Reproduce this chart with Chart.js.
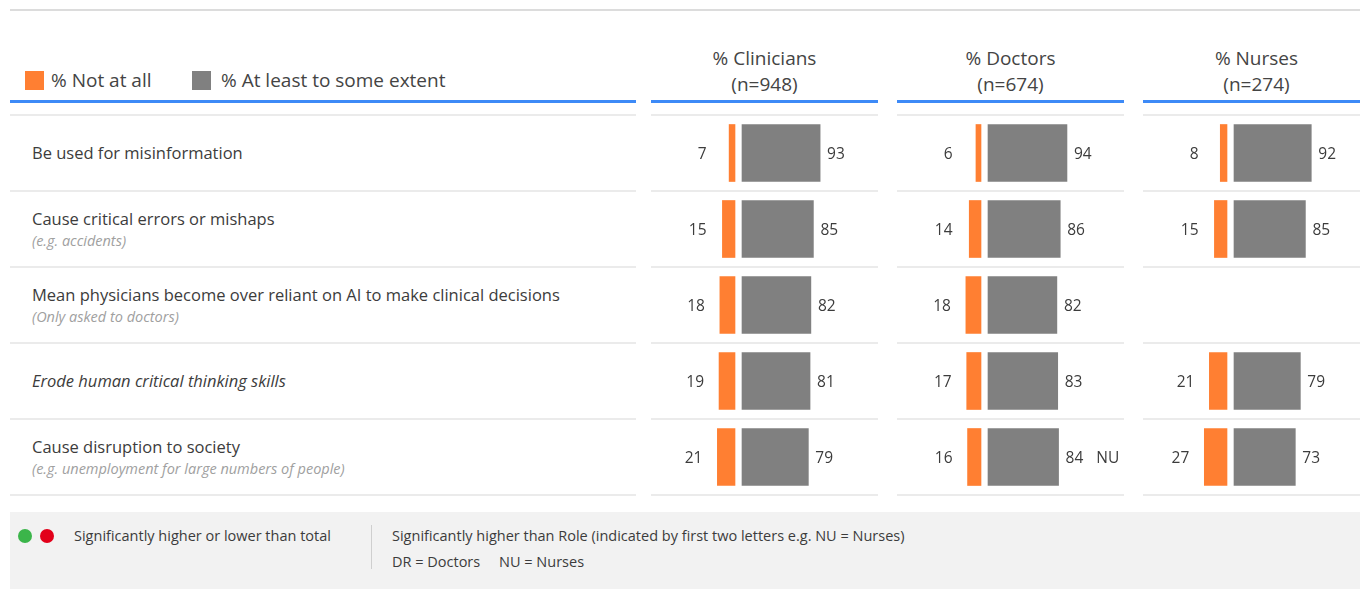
<!DOCTYPE html>
<html>
<head>
<meta charset="utf-8">
<script src="https://cdn.jsdelivr.net/npm/chart.js@4.4.1/dist/chart.umd.min.js"></script>
<style>
  body { margin: 0; width: 1360px; height: 589px; overflow: hidden; background: #fff; font-family: "Open Sans", sans-serif; color: #3c3c3c; position: relative; }
  .abs { position: absolute; }
  .hline { position: absolute; height: 2px; background: #ebebeb; }
  .blue { position: absolute; height: 3px; background: #3d8af7; top: 100px; }
  .head { position: absolute; width: 227px; text-align: center; font-size: 19px; line-height: 26px; top: 45px; color: #444; }
  .rowlab { position: absolute; left: 32px; font-size: 16.5px; }
  .sub { font-size: 14.5px; font-style: italic; color: #a0a0a0; }
  .panel { position: absolute; top: 115px; width: 227px; height: 380px; }
  .foot { position: absolute; font-size: 14.5px; color: #3c3c3c; }
</style>
</head>
<body>
<div class="abs" style="left:10px;top:9px;width:1350px;height:2px;background:#dcdcdc"></div>

<div class="abs" style="left:25px;top:71px;width:19px;height:19px;background:#ff7f32"></div>
<div class="abs" style="left:51px;top:67px;font-size:19px;color:#444">% Not at all</div>
<div class="abs" style="left:192px;top:71px;width:19px;height:19px;background:#808080"></div>
<div class="abs" style="left:221px;top:67px;font-size:19px;color:#444">% At least to some extent</div>

<div id="heads"></div>
<div id="lines"></div>
<div id="labels"></div>

<div class="panel" style="left:651px"><canvas id="c0"></canvas></div>
<div class="panel" style="left:897px"><canvas id="c1"></canvas></div>
<div class="panel" style="left:1143px"><canvas id="c2"></canvas></div>

<div class="abs" style="left:10px;top:512px;width:1350px;height:77px;background:#f2f2f2"></div>
<div class="abs" style="left:18px;top:529px;width:14px;height:14px;border-radius:50%;background:#3bb54a"></div>
<div class="abs" style="left:40px;top:529px;width:14px;height:14px;border-radius:50%;background:#e2001a"></div>
<div class="foot" style="left:74px;top:526px">Significantly higher or lower than total</div>
<div class="abs" style="left:371px;top:525px;width:1px;height:44px;background:#cfcfcf"></div>
<div class="foot" style="left:392px;top:526px">Significantly higher than Role (indicated by first two letters e.g. NU = Nurses)</div>
<div class="foot" style="left:392px;top:552px">DR = Doctors&nbsp;&nbsp;&nbsp;&nbsp;&nbsp;NU = Nurses</div>

<script>
const categories = [
  "Be used for misinformation",
  "Cause critical errors or mishaps",
  "Mean physicians become over reliant on AI to make clinical decisions",
  "Erode human critical thinking skills",
  "Cause disruption to society"
];
const subNotes = ["", "(e.g. accidents)", "(Only asked to doctors)", "", "(e.g. unemployment for large numbers of people)"];
const italicRows = [false, false, false, true, false];

const groups = ["% Clinicians", "% Doctors", "% Nurses"];
const groupN = ["(n=948)", "(n=674)", "(n=274)"];

const clinNotAtAll = [7, 15, 18, 19, 21];
const clinSomeExtent = [93, 85, 82, 81, 79];
const docNotAtAll = [6, 14, 18, 17, 16];
const docSomeExtent = [94, 86, 82, 83, 84];
const nurseNotAtAll = [8, 15, null, 21, 27];
const nurseSomeExtent = [92, 85, null, 79, 73];

const clinSig = ["", "", "", "", ""];
const docSig = ["", "", "", "", "NU"];
const nurseSig = ["", "", "", "", ""];

const panelLefts = [651, 897, 1143];
const rowTops = [114, 190, 266, 342, 418, 494];

// headers + lines
let h = "";
panelLefts.forEach((x, i) => {
  h += `<div class="head" style="left:${x}px">${groups[i]}<br>${groupN[i]}</div>`;
  h += `<div class="blue" style="left:${x}px;width:${Math.min(227, 1360 - x)}px"></div>`;
});
h += `<div class="blue" style="left:10px;width:626px"></div>`;
document.getElementById("heads").innerHTML = h;

let l = "";
rowTops.forEach(y => {
  l += `<div class="hline" style="left:10px;top:${y}px;width:626px"></div>`;
  panelLefts.forEach(x => {
    l += `<div class="hline" style="left:${x}px;top:${y}px;width:${Math.min(227, 1360 - x)}px"></div>`;
  });
});
document.getElementById("lines").innerHTML = l;

let t = "";
categories.forEach((c, i) => {
  const mid = rowTops[i] + 38;
  if (subNotes[i]) {
    t += `<div class="rowlab" style="top:${mid - 20}px;line-height:21px">${c}<br><span class="sub">${subNotes[i]}</span></div>`;
  } else {
    t += `<div class="rowlab" style="top:${mid - 10}px;line-height:21px;${italicRows[i] ? 'font-style:italic' : ''}">${c}</div>`;
  }
});
document.getElementById("labels").innerHTML = t;

// bar charts
const PX_PER_UNIT = 0.84;
const ZERO_PX = 87.5;
const GAP = 3.5 / PX_PER_UNIT;
const X_MIN = -ZERO_PX / PX_PER_UNIT;
const X_MAX = (227 - ZERO_PX) / PX_PER_UNIT;

const valueLabels = {
  id: "valueLabels",
  afterDatasetsDraw(chart, args, opts) {
    const ctx = chart.ctx;
    const xs = chart.scales.x, ys = chart.scales.y;
    ctx.save();
    ctx.font = "15.5px 'Open Sans'";
    ctx.fillStyle = "#3c3c3c";
    ctx.textBaseline = "middle";
    const zero = xs.getPixelForValue(0);
    opts.notAtAll.forEach((v, i) => {
      if (v == null) return;
      const y = ys.getPixelForValue(i) + 1.5;
      const left = xs.getPixelForValue(-v - GAP);
      ctx.textAlign = "right";
      ctx.fillText(String(v), Math.min(zero - 32, left - 15), y);
      const s = opts.some[i];
      const right = xs.getPixelForValue(s + GAP);
      ctx.textAlign = "left";
      ctx.fillText(String(s), right + 7, y);
      if (opts.sig[i]) {
        const w = ctx.measureText(String(s)).width;
        ctx.fillText(opts.sig[i], right + 7 + w + 13, y);
      }
    });
    ctx.restore();
  }
};

function makeChart(id, notAtAll, some, sig) {
  new Chart(document.getElementById(id), {
    type: "bar",
    data: {
      labels: categories,
      datasets: [
        {
          label: "% Not at all",
          data: notAtAll.map(v => v == null ? null : [-v - GAP, -GAP]),
          backgroundColor: "#ff7f32",
          barThickness: 57,
          grouped: false
        },
        {
          label: "% At least to some extent",
          data: some.map(v => v == null ? null : [GAP, v + GAP]),
          backgroundColor: "#808080",
          barThickness: 57,
          grouped: false
        }
      ]
    },
    options: {
      indexAxis: "y",
      responsive: false,
      animation: false,
      maintainAspectRatio: false,
      layout: { padding: 0 },
      plugins: {
        legend: { display: false },
        tooltip: { enabled: false },
        valueLabels: { notAtAll, some, sig }
      },
      scales: {
        x: { display: false, min: X_MIN, max: X_MAX },
        y: { display: false, offset: true }
      }
    },
    plugins: [valueLabels]
  });
}

document.querySelectorAll("canvas").forEach(c => { c.width = 227; c.height = 380; });
makeChart("c0", clinNotAtAll, clinSomeExtent, clinSig);
makeChart("c1", docNotAtAll, docSomeExtent, docSig);
makeChart("c2", nurseNotAtAll, nurseSomeExtent, nurseSig);
</script>
</body>
</html>
